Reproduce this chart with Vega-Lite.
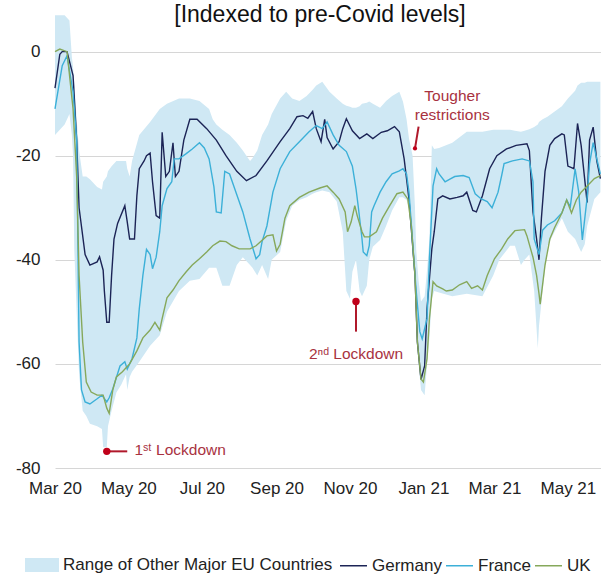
{
  "$schema": "https://vega.github.io/schema/vega-lite/v6.json",
  "width": 546,
  "height": 458,
  "autosize": {"type": "none"},
  "padding": {"left": 55, "top": 10, "right": 0, "bottom": 107},
  "background": "white",
  "config": {
    "font": "Liberation Sans",
    "view": {"stroke": null}
  },
  "title": {
    "text": "[Indexed to pre-Covid levels]",
    "fontSize": 23,
    "fontWeight": "normal",
    "font": "Liberation Sans",
    "color": "#111111",
    "anchor": "middle",
    "frame": "group",
    "offset": -13,
    "baseline": "alphabetic",
    "dx": -8,
    "dy": 22
  },
  "datasets": {
    "band": [
      {"d": "2020-03-01", "v": 7, "v2": -16},
      {"d": "2020-03-05", "v": 7, "v2": -15},
      {"d": "2020-03-09", "v": 7, "v2": -14},
      {"d": "2020-03-13", "v": 6, "v2": -12},
      {"d": "2020-03-15", "v": -1, "v2": -16},
      {"d": "2020-03-16", "v": -3, "v2": -20},
      {"d": "2020-03-17", "v": -6, "v2": -38},
      {"d": "2020-03-19", "v": -13, "v2": -50},
      {"d": "2020-03-21", "v": -19, "v2": -62},
      {"d": "2020-03-24", "v": -24, "v2": -69},
      {"d": "2020-03-27", "v": -24, "v2": -70},
      {"d": "2020-03-30", "v": -24.5, "v2": -71.5},
      {"d": "2020-04-05", "v": -26, "v2": -72},
      {"d": "2020-04-09", "v": -26.5, "v2": -72.5},
      {"d": "2020-04-10", "v": -25, "v2": -76},
      {"d": "2020-04-13", "v": -24, "v2": -76},
      {"d": "2020-04-14", "v": -23, "v2": -72},
      {"d": "2020-04-17", "v": -22, "v2": -69},
      {"d": "2020-04-21", "v": -21, "v2": -65.5},
      {"d": "2020-04-25", "v": -21, "v2": -64},
      {"d": "2020-04-29", "v": -21, "v2": -62},
      {"d": "2020-04-30", "v": -22.5, "v2": -65},
      {"d": "2020-05-02", "v": -24, "v2": -62.5},
      {"d": "2020-05-04", "v": -21, "v2": -61.5},
      {"d": "2020-05-10", "v": -16, "v2": -59.6},
      {"d": "2020-05-19", "v": -13.5, "v2": -56.5},
      {"d": "2020-05-27", "v": -11, "v2": -54.5},
      {"d": "2020-06-02", "v": -10, "v2": -50},
      {"d": "2020-06-12", "v": -9, "v2": -46},
      {"d": "2020-06-21", "v": -9, "v2": -44},
      {"d": "2020-06-29", "v": -9.5, "v2": -43.7},
      {"d": "2020-07-07", "v": -11, "v2": -41.5},
      {"d": "2020-07-10", "v": -13, "v2": -41.5},
      {"d": "2020-07-13", "v": -14, "v2": -41.5},
      {"d": "2020-07-18", "v": -15, "v2": -45},
      {"d": "2020-07-24", "v": -16, "v2": -45},
      {"d": "2020-07-30", "v": -17.5, "v2": -41},
      {"d": "2020-08-04", "v": -19, "v2": -39.5},
      {"d": "2020-08-10", "v": -21, "v2": -41},
      {"d": "2020-08-12", "v": -20.5, "v2": -41.5},
      {"d": "2020-08-16", "v": -19, "v2": -43},
      {"d": "2020-08-20", "v": -16, "v2": -41},
      {"d": "2020-08-25", "v": -14, "v2": -43.7},
      {"d": "2020-08-28", "v": -12, "v2": -40},
      {"d": "2020-09-04", "v": -9, "v2": -38.5},
      {"d": "2020-09-09", "v": -7.7, "v2": -32.5},
      {"d": "2020-09-14", "v": -9, "v2": -29.6},
      {"d": "2020-09-20", "v": -9.5, "v2": -28.5},
      {"d": "2020-09-26", "v": -8.5, "v2": -28},
      {"d": "2020-10-01", "v": -7.3, "v2": -27.3},
      {"d": "2020-10-04", "v": -6.5, "v2": -27},
      {"d": "2020-10-09", "v": -5.8, "v2": -26.7},
      {"d": "2020-10-15", "v": -7.7, "v2": -27},
      {"d": "2020-10-21", "v": -9, "v2": -28.8},
      {"d": "2020-10-26", "v": -10, "v2": -34.6},
      {"d": "2020-10-29", "v": -10.4, "v2": -46},
      {"d": "2020-11-01", "v": -10.6, "v2": -47.5},
      {"d": "2020-11-03", "v": -10.8, "v2": -42.3},
      {"d": "2020-11-06", "v": -10.8, "v2": -40},
      {"d": "2020-11-09", "v": -10.5, "v2": -46},
      {"d": "2020-11-11", "v": -10, "v2": -47},
      {"d": "2020-11-15", "v": -9.8, "v2": -45},
      {"d": "2020-11-17", "v": -9.6, "v2": -40},
      {"d": "2020-11-20", "v": -10, "v2": -37.5},
      {"d": "2020-11-26", "v": -10.8, "v2": -36.2},
      {"d": "2020-12-01", "v": -9.5, "v2": -33.5},
      {"d": "2020-12-06", "v": -8.5, "v2": -30.5},
      {"d": "2020-12-12", "v": -7.7, "v2": -28},
      {"d": "2020-12-15", "v": -9.6, "v2": -28},
      {"d": "2020-12-18", "v": -13, "v2": -28.5},
      {"d": "2020-12-20", "v": -16.7, "v2": -30},
      {"d": "2020-12-23", "v": -20, "v2": -39},
      {"d": "2020-12-25", "v": -30, "v2": -45},
      {"d": "2020-12-26", "v": -38, "v2": -55},
      {"d": "2020-12-28", "v": -44, "v2": -60},
      {"d": "2020-12-30", "v": -48, "v2": -65},
      {"d": "2021-01-02", "v": -47, "v2": -66},
      {"d": "2021-01-04", "v": -42, "v2": -60},
      {"d": "2021-01-06", "v": -36, "v2": -55},
      {"d": "2021-01-08", "v": -18, "v2": -47.5},
      {"d": "2021-01-10", "v": -18.7, "v2": -46},
      {"d": "2021-01-14", "v": -18.5, "v2": -46.3},
      {"d": "2021-01-25", "v": -17.5, "v2": -47},
      {"d": "2021-02-06", "v": -15.4, "v2": -46.5},
      {"d": "2021-02-19", "v": -15.4, "v2": -47},
      {"d": "2021-02-28", "v": -15, "v2": -43},
      {"d": "2021-03-05", "v": -15, "v2": -40},
      {"d": "2021-03-14", "v": -15, "v2": -37.3},
      {"d": "2021-03-18", "v": -15.2, "v2": -37.3},
      {"d": "2021-03-23", "v": -15.4, "v2": -41},
      {"d": "2021-03-26", "v": -15.2, "v2": -40},
      {"d": "2021-03-30", "v": -14.9, "v2": -39},
      {"d": "2021-04-03", "v": -14.5, "v2": -46},
      {"d": "2021-04-06", "v": -14, "v2": -57},
      {"d": "2021-04-07", "v": -13.5, "v2": -52.7},
      {"d": "2021-04-10", "v": -13, "v2": -46},
      {"d": "2021-04-14", "v": -12.5, "v2": -37.3},
      {"d": "2021-04-20", "v": -11.5, "v2": -34.6},
      {"d": "2021-04-26", "v": -10.5, "v2": -32},
      {"d": "2021-05-01", "v": -9, "v2": -34.6},
      {"d": "2021-05-07", "v": -7.5, "v2": -36},
      {"d": "2021-05-09", "v": -6.5, "v2": -37},
      {"d": "2021-05-12", "v": -6, "v2": -38.5},
      {"d": "2021-05-15", "v": -6, "v2": -37},
      {"d": "2021-05-17", "v": -5.8, "v2": -33.5},
      {"d": "2021-05-23", "v": -5.8, "v2": -28.3},
      {"d": "2021-05-28", "v": -5.8, "v2": -27}
    ],
    "series": [
      {"c": "Germany", "d": "2020-03-01", "v": -7},
      {"c": "Germany", "d": "2020-03-05", "v": -0.5},
      {"c": "Germany", "d": "2020-03-07", "v": 0},
      {"c": "Germany", "d": "2020-03-11", "v": 0},
      {"c": "Germany", "d": "2020-03-16", "v": -4.6},
      {"c": "Germany", "d": "2020-03-19", "v": -17},
      {"c": "Germany", "d": "2020-03-21", "v": -30},
      {"c": "Germany", "d": "2020-03-26", "v": -39},
      {"c": "Germany", "d": "2020-03-30", "v": -41},
      {"c": "Germany", "d": "2020-04-05", "v": -40.4},
      {"c": "Germany", "d": "2020-04-07", "v": -39.4},
      {"c": "Germany", "d": "2020-04-10", "v": -42},
      {"c": "Germany", "d": "2020-04-11", "v": -46},
      {"c": "Germany", "d": "2020-04-13", "v": -52},
      {"c": "Germany", "d": "2020-04-15", "v": -52},
      {"c": "Germany", "d": "2020-04-17", "v": -43},
      {"c": "Germany", "d": "2020-04-19", "v": -36},
      {"c": "Germany", "d": "2020-04-22", "v": -33},
      {"c": "Germany", "d": "2020-04-28", "v": -29.6},
      {"c": "Germany", "d": "2020-04-30", "v": -32.7},
      {"c": "Germany", "d": "2020-05-02", "v": -36},
      {"c": "Germany", "d": "2020-05-06", "v": -36},
      {"c": "Germany", "d": "2020-05-08", "v": -27.7},
      {"c": "Germany", "d": "2020-05-10", "v": -22.5},
      {"c": "Germany", "d": "2020-05-14", "v": -21},
      {"c": "Germany", "d": "2020-05-16", "v": -20},
      {"c": "Germany", "d": "2020-05-19", "v": -19.5},
      {"c": "Germany", "d": "2020-05-21", "v": -25},
      {"c": "Germany", "d": "2020-05-24", "v": -31.5},
      {"c": "Germany", "d": "2020-05-27", "v": -32},
      {"c": "Germany", "d": "2020-05-29", "v": -15.5},
      {"c": "Germany", "d": "2020-06-01", "v": -24},
      {"c": "Germany", "d": "2020-06-04", "v": -23},
      {"c": "Germany", "d": "2020-06-07", "v": -17.5},
      {"c": "Germany", "d": "2020-06-09", "v": -24},
      {"c": "Germany", "d": "2020-06-12", "v": -23},
      {"c": "Germany", "d": "2020-06-16", "v": -17},
      {"c": "Germany", "d": "2020-06-21", "v": -13},
      {"c": "Germany", "d": "2020-06-27", "v": -13},
      {"c": "Germany", "d": "2020-07-05", "v": -14.8},
      {"c": "Germany", "d": "2020-07-13", "v": -17},
      {"c": "Germany", "d": "2020-07-21", "v": -20},
      {"c": "Germany", "d": "2020-07-30", "v": -23},
      {"c": "Germany", "d": "2020-08-07", "v": -24.8},
      {"c": "Germany", "d": "2020-08-15", "v": -23.8},
      {"c": "Germany", "d": "2020-08-24", "v": -21},
      {"c": "Germany", "d": "2020-09-04", "v": -17.3},
      {"c": "Germany", "d": "2020-09-12", "v": -14.8},
      {"c": "Germany", "d": "2020-09-18", "v": -12.5},
      {"c": "Germany", "d": "2020-09-23", "v": -12.3},
      {"c": "Germany", "d": "2020-09-27", "v": -12.8},
      {"c": "Germany", "d": "2020-10-01", "v": -11.5},
      {"c": "Germany", "d": "2020-10-04", "v": -14.8},
      {"c": "Germany", "d": "2020-10-08", "v": -17.3},
      {"c": "Germany", "d": "2020-10-11", "v": -13},
      {"c": "Germany", "d": "2020-10-13", "v": -16.5},
      {"c": "Germany", "d": "2020-10-18", "v": -18.7},
      {"c": "Germany", "d": "2020-10-23", "v": -17.3},
      {"c": "Germany", "d": "2020-10-26", "v": -14.8},
      {"c": "Germany", "d": "2020-10-29", "v": -12.9},
      {"c": "Germany", "d": "2020-11-03", "v": -15.2},
      {"c": "Germany", "d": "2020-11-09", "v": -16.7},
      {"c": "Germany", "d": "2020-11-15", "v": -15.8},
      {"c": "Germany", "d": "2020-11-20", "v": -16.7},
      {"c": "Germany", "d": "2020-11-27", "v": -15.5},
      {"c": "Germany", "d": "2020-12-02", "v": -15.2},
      {"c": "Germany", "d": "2020-12-08", "v": -14.4},
      {"c": "Germany", "d": "2020-12-12", "v": -15.4},
      {"c": "Germany", "d": "2020-12-16", "v": -20.6},
      {"c": "Germany", "d": "2020-12-20", "v": -28.3},
      {"c": "Germany", "d": "2020-12-25", "v": -43},
      {"c": "Germany", "d": "2020-12-27", "v": -55.8},
      {"c": "Germany", "d": "2020-12-30", "v": -63},
      {"c": "Germany", "d": "2021-01-02", "v": -60.4},
      {"c": "Germany", "d": "2021-01-04", "v": -49.4},
      {"c": "Germany", "d": "2021-01-08", "v": -37.9},
      {"c": "Germany", "d": "2021-01-10", "v": -34.6},
      {"c": "Germany", "d": "2021-01-13", "v": -28.3},
      {"c": "Germany", "d": "2021-01-17", "v": -27.7},
      {"c": "Germany", "d": "2021-01-23", "v": -28.3},
      {"c": "Germany", "d": "2021-01-29", "v": -28},
      {"c": "Germany", "d": "2021-02-03", "v": -27.7},
      {"c": "Germany", "d": "2021-02-06", "v": -27},
      {"c": "Germany", "d": "2021-02-11", "v": -30.5},
      {"c": "Germany", "d": "2021-02-14", "v": -30.8},
      {"c": "Germany", "d": "2021-02-19", "v": -27.7},
      {"c": "Germany", "d": "2021-02-25", "v": -22.5},
      {"c": "Germany", "d": "2021-03-03", "v": -20},
      {"c": "Germany", "d": "2021-03-11", "v": -18.7},
      {"c": "Germany", "d": "2021-03-19", "v": -18},
      {"c": "Germany", "d": "2021-03-28", "v": -17.7},
      {"c": "Germany", "d": "2021-03-30", "v": -19},
      {"c": "Germany", "d": "2021-04-02", "v": -30.8},
      {"c": "Germany", "d": "2021-04-05", "v": -36},
      {"c": "Germany", "d": "2021-04-07", "v": -40},
      {"c": "Germany", "d": "2021-04-09", "v": -32},
      {"c": "Germany", "d": "2021-04-12", "v": -23},
      {"c": "Germany", "d": "2021-04-16", "v": -18},
      {"c": "Germany", "d": "2021-04-20", "v": -16.7},
      {"c": "Germany", "d": "2021-04-26", "v": -15.8},
      {"c": "Germany", "d": "2021-04-28", "v": -16},
      {"c": "Germany", "d": "2021-05-01", "v": -22},
      {"c": "Germany", "d": "2021-05-06", "v": -22.5},
      {"c": "Germany", "d": "2021-05-09", "v": -13.8},
      {"c": "Germany", "d": "2021-05-12", "v": -18},
      {"c": "Germany", "d": "2021-05-17", "v": -29},
      {"c": "Germany", "d": "2021-05-19", "v": -17},
      {"c": "Germany", "d": "2021-05-22", "v": -14.5},
      {"c": "Germany", "d": "2021-05-25", "v": -21},
      {"c": "Germany", "d": "2021-05-28", "v": -24.4},
      {"c": "France", "d": "2020-03-01", "v": -11},
      {"c": "France", "d": "2020-03-07", "v": -2.7},
      {"c": "France", "d": "2020-03-11", "v": -0.8},
      {"c": "France", "d": "2020-03-16", "v": -7.7},
      {"c": "France", "d": "2020-03-19", "v": -17},
      {"c": "France", "d": "2020-03-20", "v": -36.5},
      {"c": "France", "d": "2020-03-21", "v": -55.8},
      {"c": "France", "d": "2020-03-23", "v": -65},
      {"c": "France", "d": "2020-03-26", "v": -67.3},
      {"c": "France", "d": "2020-03-30", "v": -67.7},
      {"c": "France", "d": "2020-04-05", "v": -66.7},
      {"c": "France", "d": "2020-04-09", "v": -66},
      {"c": "France", "d": "2020-04-13", "v": -67.3},
      {"c": "France", "d": "2020-04-15", "v": -66.5},
      {"c": "France", "d": "2020-04-18", "v": -64.8},
      {"c": "France", "d": "2020-04-24", "v": -60.4},
      {"c": "France", "d": "2020-04-28", "v": -59.6},
      {"c": "France", "d": "2020-04-30", "v": -61},
      {"c": "France", "d": "2020-05-04", "v": -59},
      {"c": "France", "d": "2020-05-08", "v": -55},
      {"c": "France", "d": "2020-05-10", "v": -49.4},
      {"c": "France", "d": "2020-05-13", "v": -43},
      {"c": "France", "d": "2020-05-16", "v": -38},
      {"c": "France", "d": "2020-05-19", "v": -39},
      {"c": "France", "d": "2020-05-21", "v": -41.7},
      {"c": "France", "d": "2020-05-24", "v": -39.5},
      {"c": "France", "d": "2020-05-27", "v": -34.6},
      {"c": "France", "d": "2020-05-29", "v": -29.6},
      {"c": "France", "d": "2020-06-02", "v": -26.3},
      {"c": "France", "d": "2020-06-06", "v": -25},
      {"c": "France", "d": "2020-06-08", "v": -20.6},
      {"c": "France", "d": "2020-06-12", "v": -20.6},
      {"c": "France", "d": "2020-06-18", "v": -19.6},
      {"c": "France", "d": "2020-06-23", "v": -18.7},
      {"c": "France", "d": "2020-06-29", "v": -17.5},
      {"c": "France", "d": "2020-07-03", "v": -18.5},
      {"c": "France", "d": "2020-07-07", "v": -20.6},
      {"c": "France", "d": "2020-07-11", "v": -26},
      {"c": "France", "d": "2020-07-13", "v": -30.8},
      {"c": "France", "d": "2020-07-17", "v": -31},
      {"c": "France", "d": "2020-07-20", "v": -23},
      {"c": "France", "d": "2020-07-24", "v": -23.5},
      {"c": "France", "d": "2020-07-30", "v": -27.5},
      {"c": "France", "d": "2020-08-04", "v": -30.8},
      {"c": "France", "d": "2020-08-10", "v": -36},
      {"c": "France", "d": "2020-08-15", "v": -39.8},
      {"c": "France", "d": "2020-08-18", "v": -39},
      {"c": "France", "d": "2020-08-20", "v": -36.5},
      {"c": "France", "d": "2020-08-24", "v": -33.5},
      {"c": "France", "d": "2020-08-29", "v": -27},
      {"c": "France", "d": "2020-09-04", "v": -22.5},
      {"c": "France", "d": "2020-09-12", "v": -19.2},
      {"c": "France", "d": "2020-09-20", "v": -17.3},
      {"c": "France", "d": "2020-09-28", "v": -15.4},
      {"c": "France", "d": "2020-10-04", "v": -14.2},
      {"c": "France", "d": "2020-10-09", "v": -14.8},
      {"c": "France", "d": "2020-10-13", "v": -13.5},
      {"c": "France", "d": "2020-10-18", "v": -16},
      {"c": "France", "d": "2020-10-23", "v": -18},
      {"c": "France", "d": "2020-10-29", "v": -19.2},
      {"c": "France", "d": "2020-11-03", "v": -22},
      {"c": "France", "d": "2020-11-06", "v": -26.3},
      {"c": "France", "d": "2020-11-08", "v": -30},
      {"c": "France", "d": "2020-11-11", "v": -36},
      {"c": "France", "d": "2020-11-12", "v": -38.5},
      {"c": "France", "d": "2020-11-15", "v": -39.2},
      {"c": "France", "d": "2020-11-17", "v": -37.3},
      {"c": "France", "d": "2020-11-19", "v": -30.8},
      {"c": "France", "d": "2020-11-21", "v": -29.6},
      {"c": "France", "d": "2020-11-26", "v": -27},
      {"c": "France", "d": "2020-12-01", "v": -25},
      {"c": "France", "d": "2020-12-06", "v": -23.5},
      {"c": "France", "d": "2020-12-12", "v": -22.9},
      {"c": "France", "d": "2020-12-15", "v": -22.5},
      {"c": "France", "d": "2020-12-18", "v": -23.5},
      {"c": "France", "d": "2020-12-20", "v": -27},
      {"c": "France", "d": "2020-12-23", "v": -36.5},
      {"c": "France", "d": "2020-12-26", "v": -46},
      {"c": "France", "d": "2020-12-29", "v": -53.8},
      {"c": "France", "d": "2020-12-31", "v": -55.2},
      {"c": "France", "d": "2021-01-04", "v": -51.3},
      {"c": "France", "d": "2021-01-06", "v": -39.8},
      {"c": "France", "d": "2021-01-09", "v": -25.8},
      {"c": "France", "d": "2021-01-12", "v": -22.5},
      {"c": "France", "d": "2021-01-14", "v": -23.5},
      {"c": "France", "d": "2021-01-19", "v": -25},
      {"c": "France", "d": "2021-01-23", "v": -24.5},
      {"c": "France", "d": "2021-01-27", "v": -24},
      {"c": "France", "d": "2021-02-03", "v": -23.8},
      {"c": "France", "d": "2021-02-08", "v": -24.2},
      {"c": "France", "d": "2021-02-13", "v": -27.3},
      {"c": "France", "d": "2021-02-18", "v": -28.3},
      {"c": "France", "d": "2021-02-23", "v": -28.8},
      {"c": "France", "d": "2021-02-27", "v": -30},
      {"c": "France", "d": "2021-03-04", "v": -27},
      {"c": "France", "d": "2021-03-07", "v": -23.8},
      {"c": "France", "d": "2021-03-09", "v": -21.5},
      {"c": "France", "d": "2021-03-16", "v": -21},
      {"c": "France", "d": "2021-03-24", "v": -20.6},
      {"c": "France", "d": "2021-03-30", "v": -21},
      {"c": "France", "d": "2021-04-02", "v": -25},
      {"c": "France", "d": "2021-04-03", "v": -36},
      {"c": "France", "d": "2021-04-07", "v": -39},
      {"c": "France", "d": "2021-04-10", "v": -34.3},
      {"c": "France", "d": "2021-04-14", "v": -33.3},
      {"c": "France", "d": "2021-04-20", "v": -32.5},
      {"c": "France", "d": "2021-04-26", "v": -31},
      {"c": "France", "d": "2021-04-30", "v": -28.5},
      {"c": "France", "d": "2021-05-03", "v": -29.8},
      {"c": "France", "d": "2021-05-07", "v": -22.5},
      {"c": "France", "d": "2021-05-10", "v": -27},
      {"c": "France", "d": "2021-05-13", "v": -36.2},
      {"c": "France", "d": "2021-05-17", "v": -28},
      {"c": "France", "d": "2021-05-19", "v": -21.5},
      {"c": "France", "d": "2021-05-22", "v": -17.5},
      {"c": "France", "d": "2021-05-25", "v": -20.6},
      {"c": "France", "d": "2021-05-28", "v": -23.5},
      {"c": "UK", "d": "2020-03-01", "v": 0},
      {"c": "UK", "d": "2020-03-05", "v": 0.5},
      {"c": "UK", "d": "2020-03-11", "v": 0},
      {"c": "UK", "d": "2020-03-16", "v": -11},
      {"c": "UK", "d": "2020-03-19", "v": -24},
      {"c": "UK", "d": "2020-03-21", "v": -43},
      {"c": "UK", "d": "2020-03-24", "v": -55.8},
      {"c": "UK", "d": "2020-03-27", "v": -63.5},
      {"c": "UK", "d": "2020-03-31", "v": -65.4},
      {"c": "UK", "d": "2020-04-05", "v": -66},
      {"c": "UK", "d": "2020-04-10", "v": -66},
      {"c": "UK", "d": "2020-04-13", "v": -68.5},
      {"c": "UK", "d": "2020-04-15", "v": -69.5},
      {"c": "UK", "d": "2020-04-18", "v": -65},
      {"c": "UK", "d": "2020-04-21", "v": -62.5},
      {"c": "UK", "d": "2020-04-26", "v": -61.5},
      {"c": "UK", "d": "2020-05-02", "v": -60},
      {"c": "UK", "d": "2020-05-08", "v": -57.5},
      {"c": "UK", "d": "2020-05-13", "v": -55},
      {"c": "UK", "d": "2020-05-19", "v": -53.5},
      {"c": "UK", "d": "2020-05-23", "v": -52},
      {"c": "UK", "d": "2020-05-27", "v": -53.5},
      {"c": "UK", "d": "2020-05-29", "v": -51.3},
      {"c": "UK", "d": "2020-06-02", "v": -47.3},
      {"c": "UK", "d": "2020-06-07", "v": -45.8},
      {"c": "UK", "d": "2020-06-12", "v": -44},
      {"c": "UK", "d": "2020-06-18", "v": -42.3},
      {"c": "UK", "d": "2020-06-23", "v": -41},
      {"c": "UK", "d": "2020-06-29", "v": -39.8},
      {"c": "UK", "d": "2020-07-05", "v": -38.5},
      {"c": "UK", "d": "2020-07-10", "v": -37.3},
      {"c": "UK", "d": "2020-07-16", "v": -36.4},
      {"c": "UK", "d": "2020-07-21", "v": -36.5},
      {"c": "UK", "d": "2020-07-26", "v": -37.3},
      {"c": "UK", "d": "2020-08-01", "v": -37.9},
      {"c": "UK", "d": "2020-08-10", "v": -37.9},
      {"c": "UK", "d": "2020-08-15", "v": -37.3},
      {"c": "UK", "d": "2020-08-24", "v": -35.4},
      {"c": "UK", "d": "2020-08-29", "v": -35.2},
      {"c": "UK", "d": "2020-09-01", "v": -38.3},
      {"c": "UK", "d": "2020-09-04", "v": -37},
      {"c": "UK", "d": "2020-09-08", "v": -32},
      {"c": "UK", "d": "2020-09-12", "v": -29.6},
      {"c": "UK", "d": "2020-09-20", "v": -28},
      {"c": "UK", "d": "2020-09-28", "v": -27},
      {"c": "UK", "d": "2020-10-07", "v": -26.2},
      {"c": "UK", "d": "2020-10-13", "v": -25.8},
      {"c": "UK", "d": "2020-10-18", "v": -27},
      {"c": "UK", "d": "2020-10-23", "v": -28.3},
      {"c": "UK", "d": "2020-10-28", "v": -30.8},
      {"c": "UK", "d": "2020-10-30", "v": -34.6},
      {"c": "UK", "d": "2020-11-02", "v": -32.7},
      {"c": "UK", "d": "2020-11-05", "v": -29.6},
      {"c": "UK", "d": "2020-11-07", "v": -31.5},
      {"c": "UK", "d": "2020-11-11", "v": -34.6},
      {"c": "UK", "d": "2020-11-13", "v": -35.6},
      {"c": "UK", "d": "2020-11-17", "v": -35.6},
      {"c": "UK", "d": "2020-11-23", "v": -34.6},
      {"c": "UK", "d": "2020-11-28", "v": -32},
      {"c": "UK", "d": "2020-12-04", "v": -29.6},
      {"c": "UK", "d": "2020-12-10", "v": -27.3},
      {"c": "UK", "d": "2020-12-15", "v": -27},
      {"c": "UK", "d": "2020-12-19", "v": -28.3},
      {"c": "UK", "d": "2020-12-22", "v": -33.5},
      {"c": "UK", "d": "2020-12-25", "v": -43},
      {"c": "UK", "d": "2020-12-27", "v": -55.8},
      {"c": "UK", "d": "2020-12-30", "v": -62.9},
      {"c": "UK", "d": "2021-01-01", "v": -63.5},
      {"c": "UK", "d": "2021-01-04", "v": -59},
      {"c": "UK", "d": "2021-01-06", "v": -51.3},
      {"c": "UK", "d": "2021-01-09", "v": -44.2},
      {"c": "UK", "d": "2021-01-12", "v": -45},
      {"c": "UK", "d": "2021-01-17", "v": -45.6},
      {"c": "UK", "d": "2021-01-20", "v": -46},
      {"c": "UK", "d": "2021-01-25", "v": -45.8},
      {"c": "UK", "d": "2021-01-31", "v": -44.8},
      {"c": "UK", "d": "2021-02-06", "v": -44.2},
      {"c": "UK", "d": "2021-02-10", "v": -45.5},
      {"c": "UK", "d": "2021-02-15", "v": -45},
      {"c": "UK", "d": "2021-02-19", "v": -45.8},
      {"c": "UK", "d": "2021-02-23", "v": -43},
      {"c": "UK", "d": "2021-03-01", "v": -39.8},
      {"c": "UK", "d": "2021-03-07", "v": -37.9},
      {"c": "UK", "d": "2021-03-12", "v": -36},
      {"c": "UK", "d": "2021-03-18", "v": -34.4},
      {"c": "UK", "d": "2021-03-26", "v": -34.2},
      {"c": "UK", "d": "2021-03-28", "v": -35.4},
      {"c": "UK", "d": "2021-04-02", "v": -39.5},
      {"c": "UK", "d": "2021-04-05", "v": -43},
      {"c": "UK", "d": "2021-04-07", "v": -46.5},
      {"c": "UK", "d": "2021-04-08", "v": -48.5},
      {"c": "UK", "d": "2021-04-12", "v": -41},
      {"c": "UK", "d": "2021-04-16", "v": -36},
      {"c": "UK", "d": "2021-04-20", "v": -33.8},
      {"c": "UK", "d": "2021-04-26", "v": -31},
      {"c": "UK", "d": "2021-04-30", "v": -28.5},
      {"c": "UK", "d": "2021-05-04", "v": -31},
      {"c": "UK", "d": "2021-05-08", "v": -28.5},
      {"c": "UK", "d": "2021-05-12", "v": -27},
      {"c": "UK", "d": "2021-05-17", "v": -25.8},
      {"c": "UK", "d": "2021-05-23", "v": -24.4},
      {"c": "UK", "d": "2021-05-28", "v": -23.8}
    ],
    "pointers": [
      {"k": "lockdown", "d": "2020-04-13", "v": -76.8, "d2": "2020-04-30", "v2": -76.8},
      {"k": "lockdown", "d": "2020-11-06", "v": -48, "d2": "2020-11-06", "v2": -53.8},
      {"k": "restrictions", "d": "2020-12-25", "v": -18.6, "d2": "2020-12-28", "v2": -14.4}
    ],
    "labels": [
      {"k": "left", "d": "2020-05-06", "v": -76.5, "t": "1ˢᵗ Lockdown"},
      {"k": "centre", "d": "2020-11-06", "v": -58, "t": "2ⁿᵈ Lockdown"},
      {"k": "centre", "d": "2021-01-25", "v": -8.6, "t": "Tougher"},
      {"k": "centre", "d": "2021-01-25", "v": -12.1, "t": "restrictions"}
    ]
  },
  "layer": [
    {
      "data": {"name": "band"},
      "mark": {"type": "area", "opacity": 1},
      "encoding": {
        "x": {
          "field": "d", "type": "temporal",
          "scale": {"domain": [{"year": 2020, "month": 3, "date": 1}, {"year": 2021, "month": 5, "date": 28, "hours": 12}], "nice": false},
          "axis": {
            "values": [
              {"year": 2020, "month": 3, "date": 1},
              {"year": 2020, "month": 5, "date": 1},
              {"year": 2020, "month": 7, "date": 1},
              {"year": 2020, "month": 9, "date": 1},
              {"year": 2020, "month": 11, "date": 1},
              {"year": 2021, "month": 1, "date": 1},
              {"year": 2021, "month": 3, "date": 1},
              {"year": 2021, "month": 5, "date": 1}
            ],
            "format": "%b %y",
            "title": null,
            "grid": false,
            "domain": false,
            "ticks": false,
            "tickSize": 0,
            "labelPadding": 12,
            "labelFontSize": 17,
            "labelColor": "#222222",
            "labelFlush": false,
            "labelOverlap": false
          }
        },
        "y": {
          "field": "v", "type": "quantitative",
          "scale": {"domain": [-80, 8], "nice": false, "zero": false},
          "axis": {
            "values": [-80, -60, -40, -20, 0],
            "labelExpr": "replace(datum.label, '\u2212', '-')",
            "title": null,
            "grid": true,
            "gridColor": "#d6d6d6",
            "gridWidth": 1,
            "domain": false,
            "ticks": false,
            "tickSize": 0,
            "labelPadding": 15,
            "labelFontSize": 17,
            "labelColor": "#222222"
          }
        },
        "y2": {"field": "v2"},
        "fill": {
          "datum": "Range of Other Major EU Countries",
          "type": "nominal",
          "scale": {"range": ["#cfe8f4"]},
          "legend": {
            "orient": "none",
            "legendX": -30,
            "legendY": 538,
            "direction": "horizontal",
            "title": null,
            "padding": 0,
            "symbolType": "M-1,-0.41H1V0.41H-1Z",
            "symbolSize": 1156,
            "symbolStrokeWidth": 0,
            "symbolOpacity": 1,
            "labelFontSize": 17,
            "labelOffset": 4,
            "labelLimit": 0,
            "labelColor": "#222222"
          }
        }
      }
    },
    {
      "mark": {"type": "rule", "color": "#2b2b2b", "strokeWidth": 1.5},
      "encoding": {
        "y": {"datum": 0, "type": "quantitative", "scale": {"domain": [-80, 8], "nice": false, "zero": false}}
      }
    },
    {
      "data": {"name": "series"},
      "mark": {"type": "line", "strokeWidth": 1.4},
      "encoding": {
        "x": {"field": "d", "type": "temporal", "scale": {"domain": [{"year": 2020, "month": 3, "date": 1}, {"year": 2021, "month": 5, "date": 28, "hours": 12}], "nice": false}},
        "y": {"field": "v", "type": "quantitative", "scale": {"domain": [-80, 8], "nice": false, "zero": false}},
        "stroke": {
          "field": "c",
          "type": "nominal",
          "sort": ["Germany", "France", "UK"],
          "scale": {"domain": ["Germany", "France", "UK"], "range": ["#1c2456", "#3cb0d8", "#86a85b"]},
          "legend": {
            "orient": "none",
            "legendX": 284,
            "legendY": 541,
            "direction": "horizontal",
            "title": null,
            "padding": 0,
            "symbolType": "stroke",
            "symbolSize": 729,
            "symbolStrokeWidth": 1.5,
            "labelFontSize": 17,
            "labelOffset": 4,
            "labelLimit": 0,
            "columnPadding": 1,
            "labelColor": "#222222"
          }
        }
      }
    },
    {
      "data": {"name": "pointers"},
      "mark": {"type": "rule", "color": "#b0192b", "strokeWidth": 2},
      "encoding": {
        "x": {"field": "d", "type": "temporal", "scale": {"domain": [{"year": 2020, "month": 3, "date": 1}, {"year": 2021, "month": 5, "date": 28, "hours": 12}], "nice": false}},
        "x2": {"field": "d2"},
        "y": {"field": "v", "type": "quantitative", "scale": {"domain": [-80, 8], "nice": false, "zero": false}},
        "y2": {"field": "v2"}
      }
    },
    {
      "data": {"name": "pointers"},
      "transform": [{"filter": "datum.k === 'lockdown'"}],
      "mark": {"type": "circle", "color": "#c0001a", "opacity": 1, "size": 55},
      "encoding": {
        "x": {"field": "d", "type": "temporal", "scale": {"domain": [{"year": 2020, "month": 3, "date": 1}, {"year": 2021, "month": 5, "date": 28, "hours": 12}], "nice": false}},
        "y": {"field": "v", "type": "quantitative", "scale": {"domain": [-80, 8], "nice": false, "zero": false}}
      }
    },
    {
      "data": {"name": "pointers"},
      "transform": [{"filter": "datum.k === 'restrictions'"}],
      "mark": {"type": "circle", "color": "#c0001a", "opacity": 1, "size": 18},
      "encoding": {
        "x": {"field": "d", "type": "temporal", "scale": {"domain": [{"year": 2020, "month": 3, "date": 1}, {"year": 2021, "month": 5, "date": 28, "hours": 12}], "nice": false}},
        "y": {"field": "v", "type": "quantitative", "scale": {"domain": [-80, 8], "nice": false, "zero": false}}
      }
    },
    {
      "data": {"name": "labels"},
      "transform": [{"filter": "datum.k === 'left'"}],
      "mark": {"type": "text", "align": "left", "baseline": "middle", "fontSize": 15.5, "color": "#a8323f"},
      "encoding": {
        "x": {"field": "d", "type": "temporal", "scale": {"domain": [{"year": 2020, "month": 3, "date": 1}, {"year": 2021, "month": 5, "date": 28, "hours": 12}], "nice": false}},
        "y": {"field": "v", "type": "quantitative", "scale": {"domain": [-80, 8], "nice": false, "zero": false}},
        "text": {"field": "t"}
      }
    },
    {
      "data": {"name": "labels"},
      "transform": [{"filter": "datum.k === 'centre'"}],
      "mark": {"type": "text", "align": "center", "baseline": "middle", "fontSize": 15.5, "color": "#a8323f"},
      "encoding": {
        "x": {"field": "d", "type": "temporal", "scale": {"domain": [{"year": 2020, "month": 3, "date": 1}, {"year": 2021, "month": 5, "date": 28, "hours": 12}], "nice": false}},
        "y": {"field": "v", "type": "quantitative", "scale": {"domain": [-80, 8], "nice": false, "zero": false}},
        "text": {"field": "t"}
      }
    }
  ]
}
